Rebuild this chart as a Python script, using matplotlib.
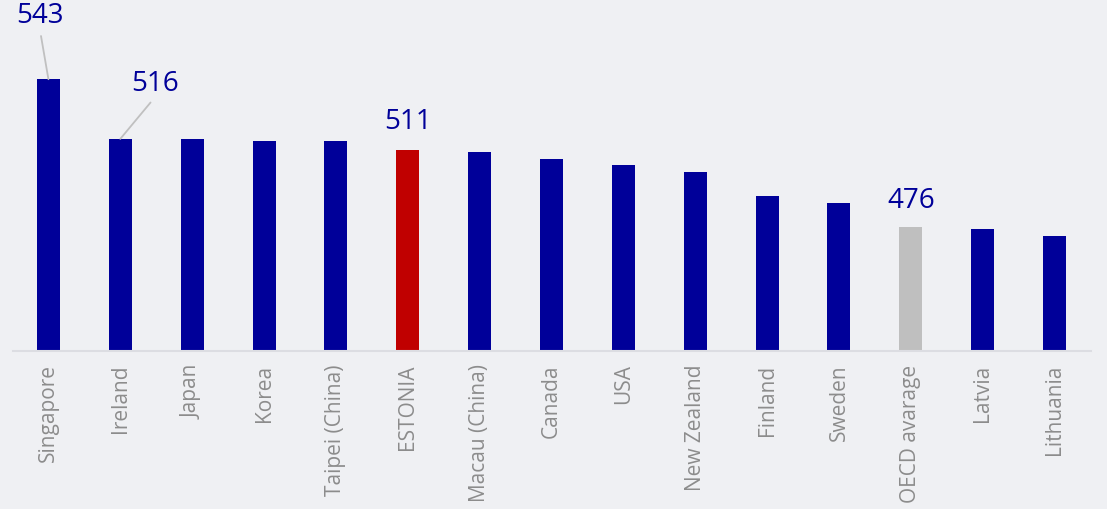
import matplotlib
matplotlib.use("Agg")
import matplotlib.pyplot as plt
import numpy as np

countries = [
	"Singapore", "Ireland", "Japan", "Korea", "Taipei (China)", "ESTONIA",
	"Macau (China)", "Canada", "USA", "New Zealand", "Finland", "Sweden",
	"OECD avarage", "Latvia", "Lithuania",
]
scores = [543, 516, 516, 515, 515, 511, 510, 507, 504, 501, 490, 487, 476, 475, 472]

# labelled bars: index -> label offset (dx, dy) in data units, leader line or not
labelled = {
	0: (-0.12, 29.0, True),
	1: (0.49, 25.5, True),
	5: (0.0, 13.0, False),
	12: (0.0, 12.5, False),
}

navy = "#000099"
bar_colors = [navy] * len(countries)
bar_colors[countries.index("ESTONIA")] = "#C00000"
bar_colors[countries.index("OECD avarage")] = "#BFBFBF"

bg = "#EFF0F3"
fig = plt.figure(figsize=(11.07, 5.10), dpi=100, facecolor=bg)
ax = fig.add_axes([12.5 / 1107, 158 / 510, 1078 / 1107, 352 / 510])
ax.set_facecolor(bg)

x = np.arange(len(countries))
ax.bar(x, np.array(scores) - 420, bottom=420, width=0.32, color=bar_colors, zorder=2)

ax.set_xlim(-0.5, len(countries) - 0.5)
ax.set_ylim(420, 579.3)
ax.set_yticks([])
ax.set_xticks(x)
ax.set_xticklabels(countries, rotation=90, fontsize=15, color="#8C8C8C",
	family="Open Sans")
ax.tick_params(axis="x", length=0, pad=9)
for side in ["top", "right", "left"]:
	ax.spines[side].set_visible(False)
ax.spines["bottom"].set_color("#DCDDE2")
ax.spines["bottom"].set_linewidth(1.5)

for i, (dx, dy, leader) in labelled.items():
	if leader:
		ax.annotate(
			str(scores[i]), xy=(x[i], scores[i]), xytext=(x[i] + dx, scores[i] + dy),
			ha="center", va="center", fontsize=20, color=navy, family="Open Sans",
			arrowprops=dict(arrowstyle="-", color="#C0C0C0", lw=1.3,
				relpos=(0.5, 0.0), shrinkA=3, shrinkB=0),
		)
	else:
		ax.text(x[i] + dx, scores[i] + dy, str(scores[i]), ha="center", va="center",
			fontsize=20, color=navy, family="Open Sans")

fig.savefig("out.png", dpi=100, facecolor=bg)
